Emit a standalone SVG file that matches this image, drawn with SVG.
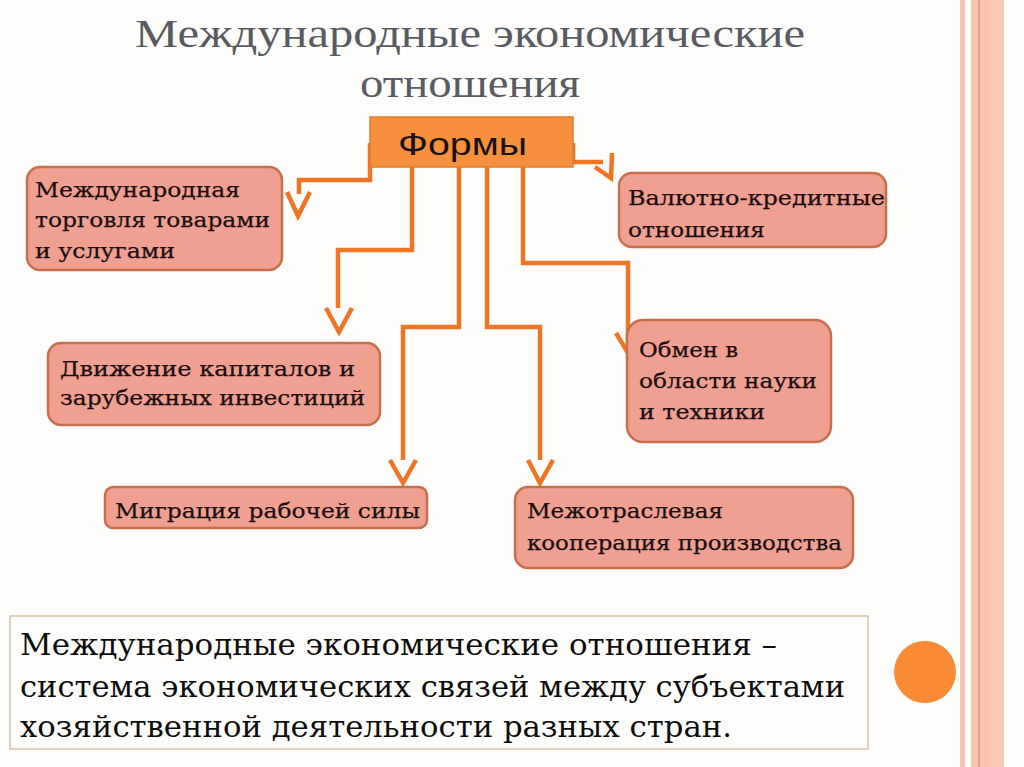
<svg xmlns="http://www.w3.org/2000/svg" width="1024" height="767" viewBox="0 0 1024 767">
<style>
.node{fill:#f0a091;stroke:#c86e4b;stroke-width:2.5}
.nt{font-family:'DejaVu Serif','Liberation Serif',serif;font-size:20px;fill:#1a0f0f;stroke:#1a0f0f;stroke-width:0.25}
.conn{fill:none;stroke:#ef7424;stroke-width:4.5;stroke-linejoin:miter}
.head{fill:none;stroke:#ef7424;stroke-width:4.5;stroke-linejoin:miter}
.title{font-family:'Liberation Serif','DejaVu Serif',serif;font-size:41px;fill:#585b61}
.def{font-family:'DejaVu Serif','Liberation Serif',serif;font-size:30px;fill:#0d0d0d}
</style>
<rect x="0" y="0" width="1024" height="767" fill="#fffefd"/>
<rect x="960" y="0" width="5" height="767" fill="#f8c6b6"/>
<rect x="971" y="0" width="33" height="767" fill="#fbc4ae"/>
<rect x="978" y="0" width="2" height="767" fill="#e3a48a"/>
<rect x="988" y="0" width="16" height="767" fill="#fcc8b3"/>
<circle cx="925" cy="672" r="31" fill="#f98a36"/>

<g id="title">
<text class="title" x="135" y="47" textLength="670" lengthAdjust="spacingAndGlyphs">Международные экономические</text>
<text class="title" x="360" y="97" textLength="220" lengthAdjust="spacingAndGlyphs">отношения</text>
</g>

<g id="connectors">
<path class="conn" d="M370,143 V180 H299 V194"/>
<polyline class="head" points="287,192 298,216 310,192"/>
<path class="conn" d="M573,143 V162 H603"/>
<polyline class="head" points="595,167 611,178 612,153"/>
<path class="conn" d="M412,167 V250 H338 V308"/>
<polyline class="head" points="326,308 339,332 352,308"/>
<path class="conn" d="M459,167 V327 H403 V460"/>
<polyline class="head" points="390,460 403,483 416,460"/>
<path class="conn" d="M487,167 V327 H540 V460"/>
<polyline class="head" points="528,460 540,483 553,460"/>
<path class="conn" d="M523,167 V263 H628 V345"/>
<polyline class="head" points="616,333 628,353 641,332"/>
</g>

<g id="forms">
<rect x="370" y="117" width="203" height="50" fill="#f7903c" stroke="#e27a2c" stroke-width="1.5"/>
<text x="398" y="155" font-family="Liberation Sans, Arial, sans-serif" font-size="32" fill="#1a1010" textLength="129" lengthAdjust="spacingAndGlyphs">Формы</text>
</g>

<g id="trade">
<rect class="node" x="27" y="167" width="255" height="103" rx="13"/>
<text class="nt" x="35" y="197" textLength="205" lengthAdjust="spacingAndGlyphs">Международная</text>
<text class="nt" x="35" y="227" textLength="235" lengthAdjust="spacingAndGlyphs">торговля товарами</text>
<text class="nt" x="35" y="258" textLength="140" lengthAdjust="spacingAndGlyphs">и услугами</text>
</g>

<g id="currency">
<rect class="node" x="619" y="173" width="267" height="74" rx="13"/>
<text class="nt" x="628" y="205" textLength="257" lengthAdjust="spacingAndGlyphs">Валютно-кредитные</text>
<text class="nt" x="628" y="237" textLength="137" lengthAdjust="spacingAndGlyphs">отношения</text>
</g>

<g id="capital">
<rect class="node" x="48" y="343" width="332" height="82" rx="13"/>
<text class="nt" x="60" y="376" textLength="295" lengthAdjust="spacingAndGlyphs">Движение капиталов и</text>
<text class="nt" x="60" y="405" textLength="305" lengthAdjust="spacingAndGlyphs">зарубежных инвестиций</text>
</g>

<g id="science">
<rect class="node" x="627" y="320" width="204" height="122" rx="16"/>
<text class="nt" x="639" y="357" textLength="99" lengthAdjust="spacingAndGlyphs">Обмен в</text>
<text class="nt" x="639" y="388" textLength="178" lengthAdjust="spacingAndGlyphs">области науки</text>
<text class="nt" x="639" y="419" textLength="126" lengthAdjust="spacingAndGlyphs">и техники</text>
</g>

<g id="migration">
<rect class="node" x="105" y="487" width="322" height="41" rx="8"/>
<text class="nt" x="115" y="518" textLength="305" lengthAdjust="spacingAndGlyphs">Миграция рабочей силы</text>
</g>

<g id="cooperation">
<rect class="node" x="515" y="487" width="338" height="81" rx="13"/>
<text class="nt" x="527" y="518" textLength="196" lengthAdjust="spacingAndGlyphs">Межотраслевая</text>
<text class="nt" x="527" y="550" textLength="315" lengthAdjust="spacingAndGlyphs">кооперация производства</text>
</g>

<g id="definition">
<rect x="10" y="616" width="858" height="133" fill="#fffefc" stroke="#d8c2a6" stroke-width="1.5"/>
<text class="def" x="20" y="655" textLength="757" lengthAdjust="spacingAndGlyphs">Международные экономические отношения –</text>
<text class="def" x="20" y="697" textLength="825" lengthAdjust="spacingAndGlyphs">система экономических связей между субъектами</text>
<text class="def" x="20" y="737" textLength="712" lengthAdjust="spacingAndGlyphs">хозяйственной деятельности разных стран.</text>
</g>
</svg>
